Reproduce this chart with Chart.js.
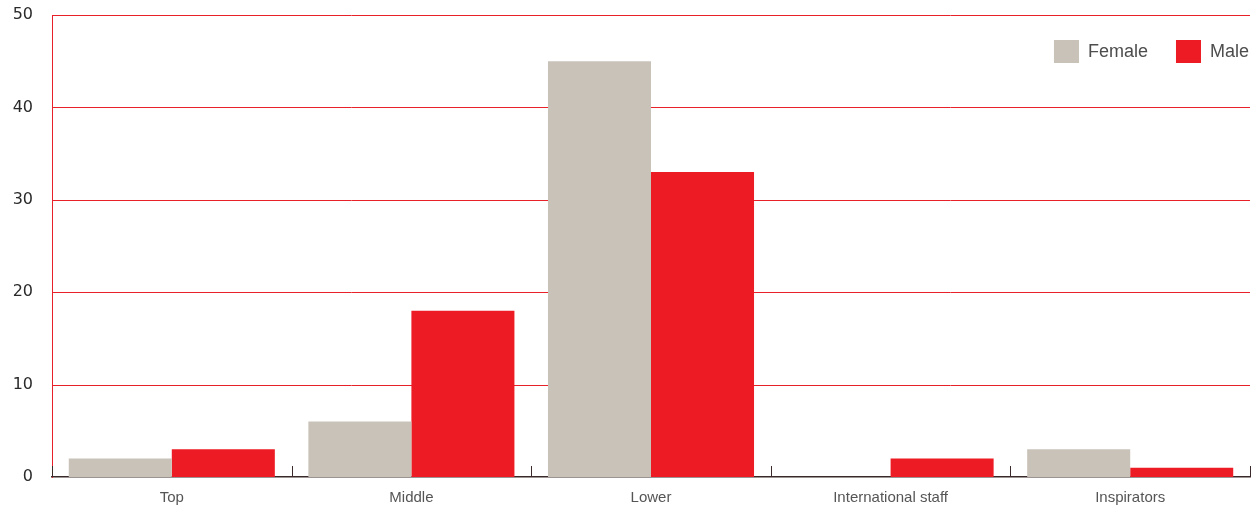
<!DOCTYPE html>
<html><head><meta charset="utf-8">
<script src="https://cdn.jsdelivr.net/npm/chart.js@4.4.1/dist/chart.umd.min.js"></script>
<style>html,body{margin:0;padding:0;background:#fff}#wrap{width:1254px;height:507px}</style>
</head><body><div id="wrap"><canvas id="c" width="1254" height="507"></canvas></div>
<script>
const categories = ["Top", "Middle", "Lower", "International staff", "Inspirators"];
const femaleValues = [2, 6, 45, 0, 3];
const maleValues = [3, 18, 33, 2, 1];
const yTicks = [0, 10, 20, 30, 40, 50];

const gridPlugin = {
  id: 'redGrid',
  beforeDatasetsDraw(chart) {
    const ctx = chart.ctx, area = chart.chartArea, ys = chart.scales.y;
    ctx.save();
    ctx.strokeStyle = '#e8202a';
    ctx.lineWidth = 1;
    ys.ticks.forEach(t => {
      if (t.value === 0) return;
      const py = Math.round(ys.getPixelForValue(t.value)) + 0.5;
      ctx.beginPath();
      ctx.moveTo(area.left, py);
      ctx.lineTo(area.right, py);
      ctx.stroke();
    });
    ctx.restore();
  }
};

const legendPlugin = {
  id: 'customLegend',
  afterDraw(chart) {
    const ctx = chart.ctx;
    const area = chart.chartArea;
    ctx.save();
    ctx.font = '18px "Liberation Sans", Arial, sans-serif';
    ctx.textBaseline = 'middle';
    const items = chart.data.datasets.map(d => ({label: d.label, color: d.backgroundColor}));
    const box = 25, gap = 9, itemGap = 28;
    let widths = items.map(it => box + gap + ctx.measureText(it.label).width);
    let total = widths.reduce((a,b)=>a+b,0) + itemGap*(items.length-1);
    let x = area.right - 1 - total;
    const y = area.top + 36;
    items.forEach((it, i) => {
      ctx.fillStyle = it.color;
      ctx.fillRect(x, y - 11, box, 23);
      ctx.fillStyle = '#4d4d4d';
      ctx.fillText(it.label, x + box + gap, y + 1);
      x += widths[i] + itemGap;
    });
    // x-axis boundary ticks pointing up
    const xs = chart.scales.x;
    ctx.strokeStyle = '#3a2a2a';
    ctx.lineWidth = 1;
    for (let i = 0; i <= categories.length; i++) {
      const px = Math.round(xs.getPixelForValue(i - 0.5)) + 0.5;
      ctx.beginPath();
      ctx.moveTo(px, area.bottom);
      ctx.lineTo(px, area.bottom - 11);
      ctx.stroke();
    }
    ctx.restore();
  }
};

new Chart(document.getElementById('c'), {
  type: 'bar',
  data: {
    labels: categories,
    datasets: [
      {label: 'Female', data: femaleValues, backgroundColor: '#c9c2b8', borderWidth: 0},
      {label: 'Male', data: maleValues, backgroundColor: '#ed1c24', borderWidth: 0}
    ]
  },
  options: {
    responsive: false,
    animation: false,
    devicePixelRatio: 1,
    layout: {padding: {top: 15, right: 4, left: 0, bottom: 0}},
    datasets: {bar: {categoryPercentage: 0.86, barPercentage: 1.0}},
    plugins: {legend: {display: false}, tooltip: {enabled: false}},
    scales: {
      x: {
        offset: true,
        grid: {display: false, drawTicks: false},
        border: {display: true, color: '#3a2a2a', width: 1.5},
        ticks: {color: '#555', font: {family: '"Liberation Sans", Arial, sans-serif', size: 15}, padding: 12},
        afterFit(s) { s.height = 30; s.paddingLeft = 0; s.paddingRight = 0; }
      },
      y: {
        min: 0, max: 50,
        afterBuildTicks(s) { s.ticks = yTicks.map(v => ({value: v})); },
        grid: {display: false, drawTicks: false},
        border: {display: true, color: '#e8202a', width: 1},
        ticks: {color: '#2a2a2a', font: {family: '"DejaVu Sans", sans-serif', size: 16}, padding: 19},
        afterFit(s) { s.width = 52; s.paddingTop = 0; s.paddingBottom = 0; }
      }
    }
  },
  plugins: [gridPlugin, legendPlugin]
});
</script></body></html>
